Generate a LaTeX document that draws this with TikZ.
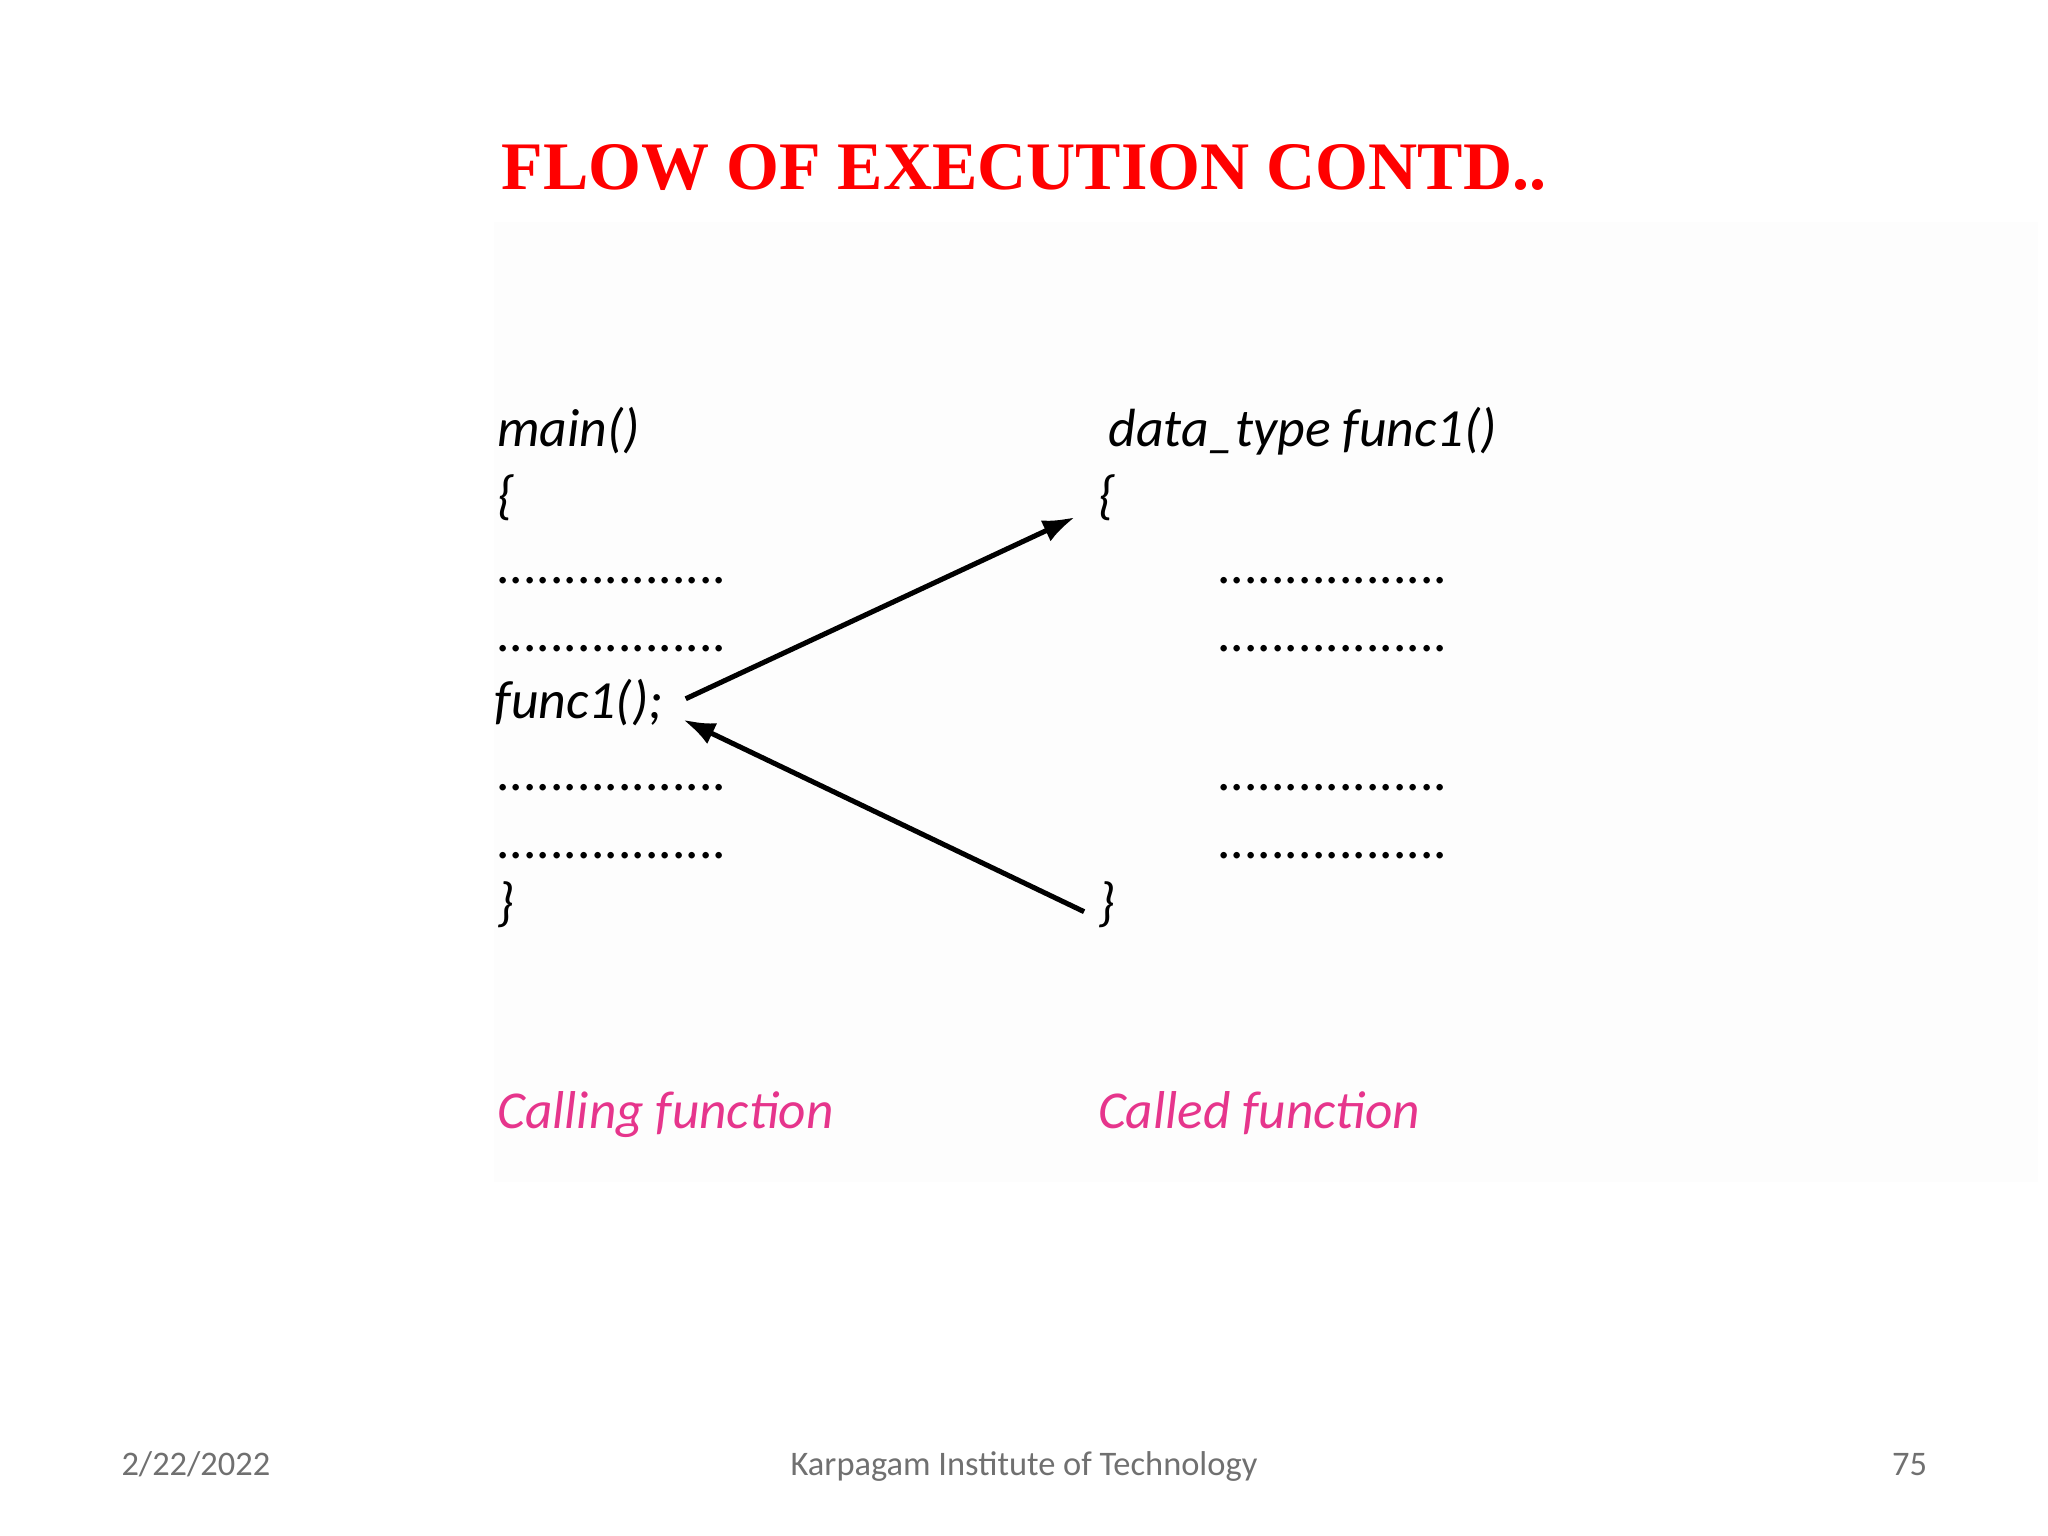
\documentclass[tikz,border=0pt]{standalone}
\usepackage{fontspec}
\setmainfont{Carlito}
\newfontfamily\titlefont{Liberation Serif}
\usetikzlibrary{arrows.meta}
\definecolor{titlered}{HTML}{FF0000}
\definecolor{pinkish}{HTML}{E6358C}
\definecolor{footgray}{HTML}{707070}
\begin{document}
\begin{tikzpicture}[x=0.01cm,y=-0.01cm,
  code/.style={anchor=base west,inner sep=0pt,font=\fontsize{11.7pt}{13pt}\selectfont\itshape},
  lab/.style={anchor=base west,inner sep=0pt,text=pinkish,font=\fontsize{11.6pt}{13pt}\selectfont\itshape},
  foot/.style={anchor=base,inner sep=0pt,text=footgray,font=\fontsize{7.5pt}{9pt}\selectfont},
  arr/.style={-{Latex[length=7pt,width=5pt]},line width=1.1pt}]
\useasboundingbox (0,0) rectangle (1568,1176);
\fill[black!0.6] (378,170) rectangle (1560,905);
\node[anchor=base,inner sep=0pt,text=titlered,font=\titlefont\fontsize{14.8pt}{17pt}\selectfont\bfseries] (title) at (784,145) {FLOW OF EXECUTION CONTD..};
\node[code] (main) at (380,342) {main()};
\node[code] (lb1) at (380,393) {\{};
\node[code] (d1) at (380,447) {.................};
\node[code] (d2) at (380,499) {.................};
\node[code] (call) at (378,550) {func1();};
\node[code] (d3) at (380,605) {.................};
\node[code] (d4) at (380,657) {.................};
\node[code] (rb1) at (380,705) {\}};
\node[code] (dt) at (848,342) {data\_type func1()};
\node[code] (lb2) at (840,393) {\{};
\node[code] (e1) at (932,447) {.................};
\node[code] (e2) at (932,499) {.................};
\node[code] (e3) at (932,605) {.................};
\node[code] (e4) at (932,657) {.................};
\node[code] (rb2) at (840,705) {\}};
\coordinate (a1s) at (525,535);
\coordinate (a1e) at (823,396);
\coordinate (a2s) at (830,698);
\coordinate (a2e) at (523,551);
\draw[arr] (a1s) -- (a1e);
\draw[arr] (a2s) -- (a2e);
\node[lab] (calling) at (380,864) {Calling function};
\node[lab] (called) at (840,864) {Called function};
\node[foot] (date) at (150,1130) {2/22/2022};
\node[foot] (inst) at (784,1130) {Karpagam Institute of Technology};
\node[foot] (num) at (1462,1130) {75};
\end{tikzpicture}
\end{document}
